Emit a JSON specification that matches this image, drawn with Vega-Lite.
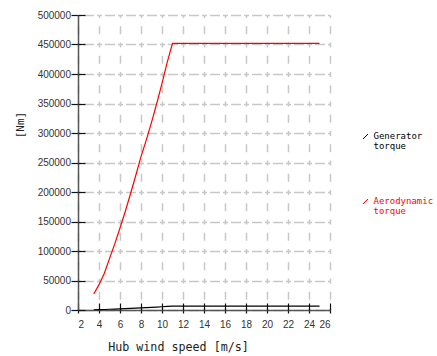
{
  "$schema": "https://vega.github.io/schema/vega-lite/v6.json",
  "width": 252,
  "height": 295,
  "autosize": "none",
  "padding": {"left": 78, "top": 15, "right": 107, "bottom": 46},
  "background": "white",
  "config": {"view": {"stroke": null}},
  "data": {
    "values": [
      {"v": 3.5, "series": "Aerodynamic torque", "torque": 27000},
      {"v": 4, "series": "Aerodynamic torque", "torque": 43000},
      {"v": 4.5, "series": "Aerodynamic torque", "torque": 62000},
      {"v": 5, "series": "Aerodynamic torque", "torque": 87000},
      {"v": 5.5, "series": "Aerodynamic torque", "torque": 112000},
      {"v": 6, "series": "Aerodynamic torque", "torque": 139000},
      {"v": 6.5, "series": "Aerodynamic torque", "torque": 167000},
      {"v": 7, "series": "Aerodynamic torque", "torque": 197000},
      {"v": 7.5, "series": "Aerodynamic torque", "torque": 228000},
      {"v": 8, "series": "Aerodynamic torque", "torque": 260000},
      {"v": 8.5, "series": "Aerodynamic torque", "torque": 288000},
      {"v": 9, "series": "Aerodynamic torque", "torque": 318000},
      {"v": 9.5, "series": "Aerodynamic torque", "torque": 350000},
      {"v": 10, "series": "Aerodynamic torque", "torque": 384000},
      {"v": 10.5, "series": "Aerodynamic torque", "torque": 420000},
      {"v": 11, "series": "Aerodynamic torque", "torque": 452000},
      {"v": 12, "series": "Aerodynamic torque", "torque": 452000},
      {"v": 13, "series": "Aerodynamic torque", "torque": 452000},
      {"v": 14, "series": "Aerodynamic torque", "torque": 452000},
      {"v": 15, "series": "Aerodynamic torque", "torque": 452000},
      {"v": 16, "series": "Aerodynamic torque", "torque": 452000},
      {"v": 17, "series": "Aerodynamic torque", "torque": 452000},
      {"v": 18, "series": "Aerodynamic torque", "torque": 452000},
      {"v": 19, "series": "Aerodynamic torque", "torque": 452000},
      {"v": 20, "series": "Aerodynamic torque", "torque": 452000},
      {"v": 21, "series": "Aerodynamic torque", "torque": 452000},
      {"v": 22, "series": "Aerodynamic torque", "torque": 452000},
      {"v": 23, "series": "Aerodynamic torque", "torque": 452000},
      {"v": 24, "series": "Aerodynamic torque", "torque": 452000},
      {"v": 25, "series": "Aerodynamic torque", "torque": 452000},
      {"v": 3.5, "series": "Generator torque", "torque": 390},
      {"v": 4, "series": "Generator torque", "torque": 610},
      {"v": 4.5, "series": "Generator torque", "torque": 890},
      {"v": 5, "series": "Generator torque", "torque": 1240},
      {"v": 5.5, "series": "Generator torque", "torque": 1600},
      {"v": 6, "series": "Generator torque", "torque": 1990},
      {"v": 6.5, "series": "Generator torque", "torque": 2390},
      {"v": 7, "series": "Generator torque", "torque": 2810},
      {"v": 7.5, "series": "Generator torque", "torque": 3260},
      {"v": 8, "series": "Generator torque", "torque": 3710},
      {"v": 8.5, "series": "Generator torque", "torque": 4110},
      {"v": 9, "series": "Generator torque", "torque": 4540},
      {"v": 9.5, "series": "Generator torque", "torque": 5000},
      {"v": 10, "series": "Generator torque", "torque": 5490},
      {"v": 10.5, "series": "Generator torque", "torque": 6000},
      {"v": 11, "series": "Generator torque", "torque": 6460},
      {"v": 12, "series": "Generator torque", "torque": 6460},
      {"v": 13, "series": "Generator torque", "torque": 6460},
      {"v": 14, "series": "Generator torque", "torque": 6460},
      {"v": 15, "series": "Generator torque", "torque": 6460},
      {"v": 16, "series": "Generator torque", "torque": 6460},
      {"v": 17, "series": "Generator torque", "torque": 6460},
      {"v": 18, "series": "Generator torque", "torque": 6460},
      {"v": 19, "series": "Generator torque", "torque": 6460},
      {"v": 20, "series": "Generator torque", "torque": 6460},
      {"v": 21, "series": "Generator torque", "torque": 6460},
      {"v": 22, "series": "Generator torque", "torque": 6460},
      {"v": 23, "series": "Generator torque", "torque": 6460},
      {"v": 24, "series": "Generator torque", "torque": 6460},
      {"v": 25, "series": "Generator torque", "torque": 6460}
    ]
  },
  "layer": [
    {
      "mark": {"type": "line", "strokeWidth": 1.2},
      "encoding": {
        "x": {
          "field": "v", "type": "quantitative",
          "scale": {"domain": [2, 26], "nice": false, "zero": false},
          "axis": {
            "values": [2, 4, 6, 8, 10, 12, 14, 16, 18, 20, 22, 24, 26],
            "title": "Hub wind speed [m/s]",
            "titleFont": "DejaVu Sans Mono", "titleFontSize": 11.7, "titleFontWeight": "normal", "titleColor": "#222",
            "titleX": 100, "titleY": 40, "titleAlign": "center", "titleBaseline": "alphabetic",
            "labelFont": "Liberation Sans", "labelFontSize": 10, "labelColor": "#333",
            "labelPadding": 6, "tickSize": 3, "tickColor": "#111", "tickWidth": 1.2,
            "domainColor": "#555", "domainWidth": 1.5,
            "grid": true, "gridColor": "#c8c8c8", "gridWidth": 1.5,
            "gridDash": [5, 8.25, 8, 8.25], "gridDashOffset": 2.5
          }
        },
        "y": {
          "field": "torque", "type": "quantitative",
          "scale": {"domain": [0, 500000], "nice": false},
          "axis": {
            "values": [0, 50000, 100000, 150000, 200000, 250000, 300000, 350000, 400000, 450000, 500000],
            "format": "d",
            "title": "[Nm]",
            "titleFont": "DejaVu Sans Mono", "titleFontSize": 11, "titleFontWeight": "normal", "titleColor": "#222",
            "titleX": -58, "titleY": 109.5, "titleAngle": -90, "titleAlign": "center", "titleBaseline": "middle",
            "labelFont": "Liberation Sans", "labelFontSize": 10, "labelColor": "#333",
            "labelPadding": 0.5, "tickSize": 7, "tickColor": "#111", "tickWidth": 1.2,
            "domainColor": "#555", "domainWidth": 1.5,
            "grid": true, "gridColor": "#c8c8c8", "gridWidth": 1.5,
            "gridDash": [5, 3, 10, 3], "gridDashOffset": 2.5
          }
        },
        "color": {
          "field": "series", "type": "nominal",
          "scale": {"domain": ["Generator torque", "Aerodynamic torque"], "range": ["#000000", "#ff0000"]},
          "legend": {
            "orient": "none", "legendX": 283, "legendY": 117,
            "title": null,
            "symbolType": "M-1,1L1,-1", "symbolSize": 25, "symbolStrokeWidth": 1,
            "labelFont": "DejaVu Sans Mono", "labelFontSize": 9,
            "labelExpr": "split(datum.label, ' ')",
            "labelBaseline": "top", "labelOffset": 3.5, "labelLimit": 0,
            "rowPadding": 45,
            "encode": {
              "labels": {"update": {"fill": {"scale": "color", "field": "value"}, "lineHeight": {"value": 10}, "dy": {"value": -5}}},
              "symbols": {"update": {"stroke": {"scale": "color", "field": "value"}}}
            }
          }
        }
      }
    },
    {
      "mark": {"type": "line", "opacity": 0},
      "encoding": {
        "x": {
          "field": "v", "type": "quantitative",
          "axis": {
            "orient": "bottom", "values": [2, 4, 6, 8, 10, 12, 14, 16, 18, 20, 22, 24, 26],
            "tickSize": -7, "tickColor": "#111", "tickWidth": 1.2,
            "labels": false, "domain": false, "grid": false, "title": null
          }
        },
        "y": {
          "field": "torque", "type": "quantitative",
          "axis": {
            "orient": "left", "values": [0, 50000, 100000, 150000, 200000, 250000, 300000, 350000, 400000, 450000, 500000],
            "tickSize": -7, "tickColor": "#111", "tickWidth": 1.2,
            "labels": false, "domain": false, "grid": false, "title": null
          }
        },
        "detail": {"field": "series", "type": "nominal"}
      }
    }
  ],
  "resolve": {"axis": {"x": "independent", "y": "independent"}}
}
